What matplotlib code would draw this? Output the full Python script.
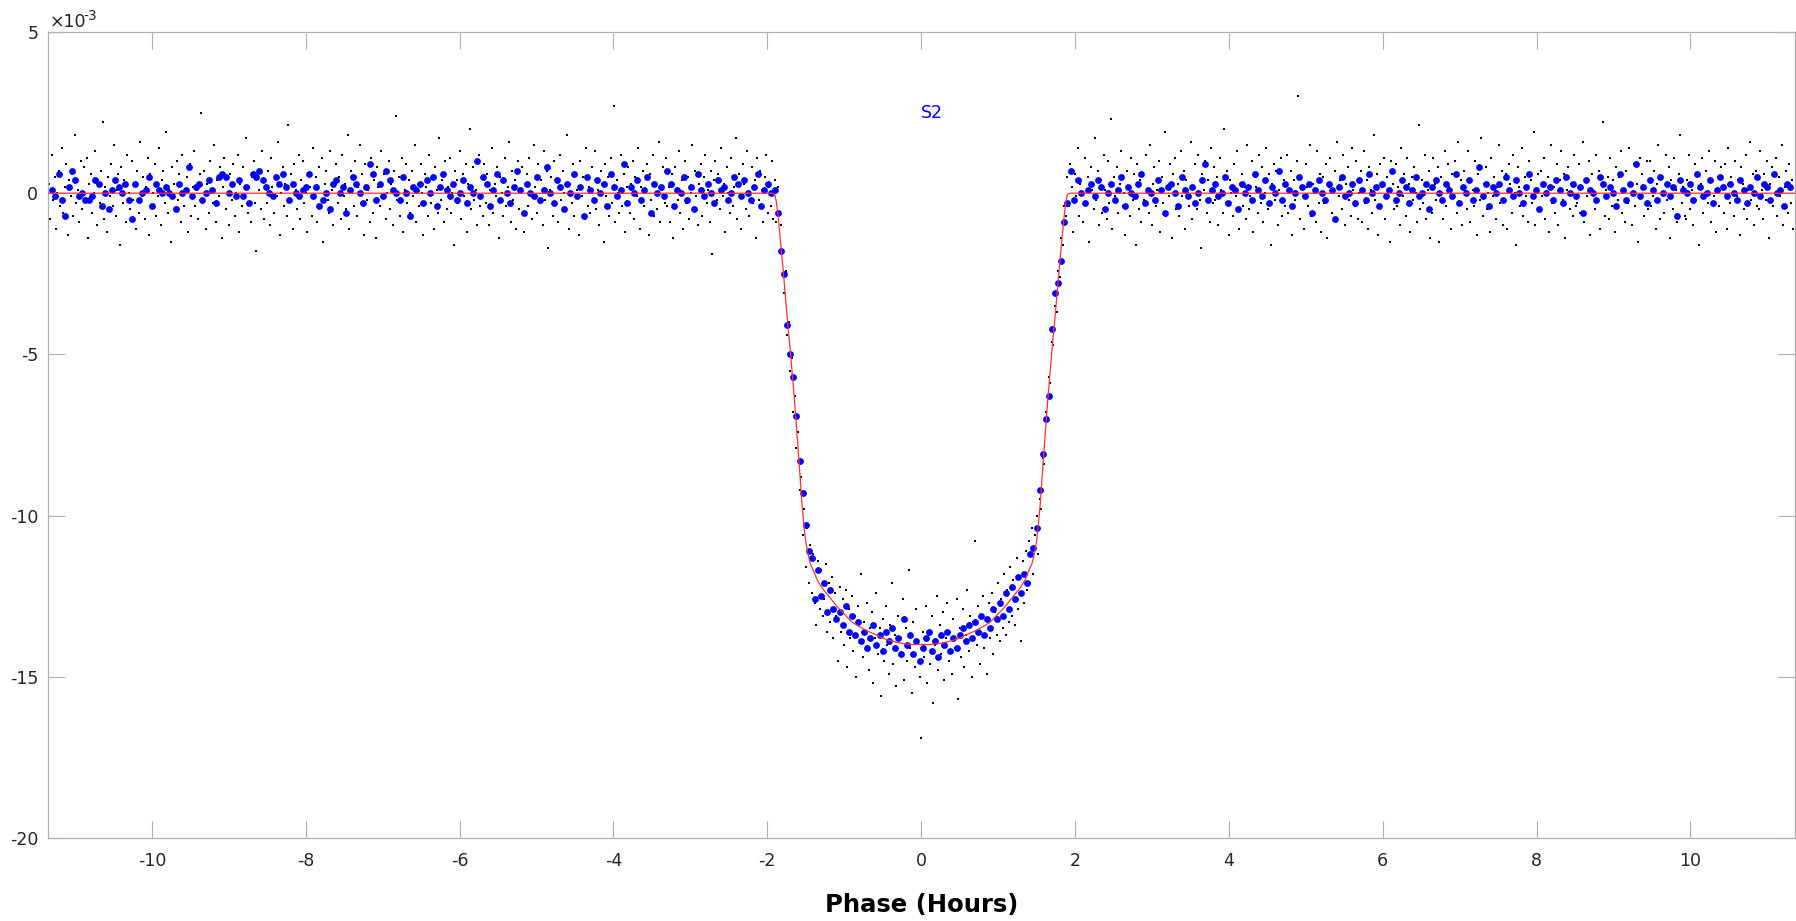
"""
Phase-folded transit light curve (S2): unbinned points, binned points and
the transit model, in the MATLAB-like style of the original figure.
"""

import numpy as np
import matplotlib
matplotlib.use('Agg')
import matplotlib.pyplot as plt

# ---------------------------------------------------------------------------
# data (relative flux in units of 1e-4)
# ---------------------------------------------------------------------------

# unbinned points, before / during / after transit
raw_pre = [
    3, -8, 12, -2, 5, -11, 0, 7, -4, 14, -6, 2, 9, -13, 4, -1, 6, -7, 18, -3, 1, -9, 10, -5, 8,
    -2, 11, -14, 3, 6, -6, 0, 13, -10, 4, -3, 7, 22, -8, 2, -12, 5, -1, 9, -4, 15, -7, 1, 6, -16,
    8, -3, 4, -9, 12, 0, -5, 10, -2, 3, -11, 7, -6, 16, -1, 5, -8, 2, 11, -13, 6, -4, 0, 9, -7,
    -1, 14, -10, 4, 7, -3, 19, -6, 1, -15, 8, 3, -5, 10, -2, 6, -9, 12, -4, 0, 5, -12, 9, -7, 2,
    13, -4, 1, -8, 6, 25, -2, 7, -11, 3, -6, 10, 0, -3, 15, -9, 4, -1, 8, -14, 2, 11, -5, 5, -10,
    6, -2, 9, -7, 0, 12, -12, 3, -4, 8, -1, 17, -6, 2, -9, 5, 10, -3, -18, 7, 1, -5, 13, -8, 4,
    -3, 7, -10, 11, 2, -6, 5, -1, 16, -13, 0, 8, -4, 3, -7, 21, -2, 6, -11, 9, 1, -5, 12, -8, 4,
    10, -3, 0, -12, 6, 2, -7, 14, -1, 5, -9, 8, -4, 11, -15, 3, 7, -2, -6, 13, 1, -10, 4, 9, -3,
    5, -8, 12, -1, 3, -5, 18, -11, 7, 0, -4, 10, -7, 2, 15, -3, 6, -13, 9, -2, 1, -9, 11, -6, 4,
    -14, 8, 2, -4, 13, -1, 6, -8, 0, 10, -5, 3, -10, 7, 24, -2, 5, -7, 11, -12, 1, 9, -3, 4, -6,
    7, -1, 15, -9, 3, -4, 9, 0, -13, 6, 2, -7, 12, -3, 5, -11, 8, 1, -6, 17, -2, 4, -9, 10, -5,
    2, 11, -6, 0, -16, 7, 4, -3, 13, -8, 6, -1, 9, -12, 3, 20, -5, 8, -2, 1, -10, 12, -4, 5, -7,
    9, -3, 6, -10, 1, 14, -6, 3, -1, 8, -14, 5, 0, -7, 11, -4, 2, 16, -9, 7, -2, 4, -11, 10, -5,
    0, 8, -12, 3, 6, -4, 11, -1, -8, 15, 2, -6, 9, -3, 4, -10, 13, -2, 7, -17, 1, 5, -7, 10, -3,
    4, -9, 12, -2, 7, 0, -5, 18, -11, 3, -3, 9, -7, 6, 1, -13, 10, -1, 5, -8, 14, -4, 2, -6, 8,
    -2, 13, -5, 1, -10, 7, 3, -15, 9, -1, 5, -7, 11, -3, 27, -9, 4, 0, -6, 12, -4, 6, -12, 2, 8,
    -6, 3, 10, -8, 5, -1, 14, -11, 2, 7, -4, 0, 9, -13, 6, -2, 12, -7, 3, -5, 16, -9, 1, 8, -3,
    11, -4, 2, -9, 6, -14, 8, 1, -2, 13, -6, 4, -11, 10, -3, 5, -8, 0, 15, -5, 7, -1, -10, 3, 9,
    -7, 5, 12, -3, 1, -9, 7, -19, 4, 10, -2, 6, -5, 14, -1, 3, -12, 8, 0, -6, 11, -4, 2, 17, -8,
    6, -1, -11, 9, 3, -5, 13, -7, 0, 8, -3, 4, -14, 11, -2, 7, 1, -9, 5, 12, -6, 2, -4, 10, -8,
]
raw_in = [
    4, -9, 2, -18, -10, -25, -31, -24, -44, -40,
    -55, -51, -68, -63, -79, -74, -92, -88, -106, -98,
    -116, -104, -121, -109, -124, -112, -127, -134, -114, -129,
    -117, -131, -126, -115, -136, -121, -133, -119, -138, -124,
    -131, -145, -122, -136, -126, -140, -123, -147, -129, -138,
    -125, -142, -131, -150, -128, -139, -118, -144, -133, -141,
    -127, -148, -135, -130, -152, -138, -124, -143, -135, -156,
    -132, -145, -128, -140, -149, -134, -121, -146, -137, -153,
    -131, -143, -138, -126, -151, -135, -145, -117, -141, -155,
    -133, -147, -129, -139, -150, -169, -136, -144, -128, -152,
    -137, -146, -131, -158, -140, -125, -148, -134, -143, -130,
    -151, -138, -127, -145, -136, -149, -132, -141, -126, -157,
    -135, -144, -129, -147, -137, -123, -142, -131, -150, -133,
    -108, -140, -128, -146, -136, -125, -141, -132, -149, -127,
    -138, -124, -143, -130, -137, -121, -139, -126, -135, -118,
    -137, -123, -133, -116, -131, -120, -134, -113, -129, -119,
    -139, -114, -127, -111, -123, -108, -121, -104, -118, -106,
    -100, -112, -95, -98, -82, -84, -68, -70, -57, -59,
    -46, -47, -35, -37, -24, -26, -14, -16, -4, -7,
    5,
]
raw_post = [
    -4, 9, 2, -12, 6, -1, 14, -7, 3, 0, -9, 11, -3, 5, -15, 8, 1, -5, 17, -2, 7, -10, 4, -6, 12,
    1, -8, 10, -3, 23, -11, 5, -1, 8, -6, 3, 13, -4, 0, -13, 7, 2, -7, 11, -2, 6, -16, 9, -5, 4,
    -9, 6, -2, 12, 0, -6, 15, -10, 3, 8, -4, 1, 10, -12, 5, -3, 19, -7, 2, -1, 9, -14, 6, 11, -5,
    3, -7, 13, -1, 7, -11, 4, 0, -4, 16, -8, 2, 9, -5, 12, -2, -17, 6, 1, 10, -6, 4, -9, 14, -3,
    8, -2, 5, -10, 11, 1, -6, 20, -3, 7, -13, 4, 0, -7, 9, -1, 13, -11, 3, 6, -4, 2, -8, 15, -5,
    -1, 10, -12, 5, 2, -6, 12, -3, 8, -9, 0, 14, -5, 6, -16, 3, 9, -2, 7, -10, 1, 11, -7, 4, -4,
    12, -6, 1, 7, -13, 4, -2, 10, 30, -8, 5, -1, -11, 9, 2, -4, 15, -7, 3, 0, -9, 13, -3, 6, -12,
    5, -3, 9, -14, 2, 11, -6, 0, 7, -9, 16, -1, 4, -5, 12, -10, 3, 8, -2, -7, 14, 1, -4, 10, -8,
    0, 7, -9, 13, -3, 4, -11, 8, 1, -6, 18, -2, 6, -13, 9, -4, 2, 11, -8, 5, -1, -15, 10, 3, -5,
    9, -4, 2, -10, 14, -1, 6, -7, 11, 3, -12, 5, -2, 8, 0, -9, 21, -5, 4, -3, 12, -8, 1, 7, -14,
    -6, 11, 3, -2, 8, -15, 5, 0, -8, 13, -4, 9, 2, -11, 6, -1, 10, -6, 16, -3, 4, -10, 7, 1, -5,
    13, -9, 4, 1, -4, 10, -13, 6, -2, 17, -7, 3, 8, -5, 0, -12, 11, -1, 5, -8, 2, 15, -3, 7, -10,
    -2, 6, -11, 9, 3, -6, 12, 0, -16, 8, 2, -4, 14, -7, 5, -1, -9, 10, 4, -3, 19, -10, 1, 6, -5,
    7, -1, 11, -8, 0, 5, -12, 15, -3, 2, -6, 9, -10, 4, 13, -2, 6, -14, 1, 8, -5, 3, -7, 12, -4,
    -3, 9, -6, 2, 16, -9, 4, -1, 10, -13, 6, 0, -5, 12, -2, 7, -11, 3, 22, -7, 1, 5, -8, 11, -4,
    4, -12, 8, -2, 5, 13, -6, 1, -9, 7, -3, 14, 0, -10, 9, -4, 3, -15, 11, -1, 6, -7, 2, 10, -5,
    10, -4, -1, 7, -11, 3, 15, -8, 5, 0, -6, 12, -2, 8, -14, 4, -5, 11, 1, -9, 6, 18, -3, 2, -7,
    -8, 4, 12, -5, 1, -10, 9, -2, 6, -16, 3, 11, -6, 0, 7, -3, 13, -9, 4, -1, 10, -12, 5, -4, 8,
    2, -6, 9, -11, 14, -3, 5, 0, -7, 10, -1, 4, -13, 8, 3, -5, 12, -8, 1, 16, -2, 6, -10, 7, -4,
    -5, 13, 1, -8, 6, -2, 10, -14, 3, 8, -4, 0, 11, -7, 5, -1, 15, -10, 2, 7, -6, 9, -3, 4, -11,
]

# binned points, before / during / after transit
bin_pre = [
    1, -1, 6, -2, -7, 2, 7, 4, -1, 0, -2, -2, -1, 4, 3, -4, 0, -5, 1, 4, 2, 0, 3, -2, -8,
    3, -2, 0, 1, 5, -4, 3, 1, 0, 2, 0, -1, -5, 3, 0, 1, 8, -1, 2, 3, -2, 0, 4, 1, -3,
    5, 6, 5, 0, 3, -1, 4, -1, 2, -3, 6, 5, 7, 4, 2, 0, -1, 5, 3, 6, 2, -2, 3, 0, -1,
    1, 2, 6, -1, 2, -4, -2, 0, -5, 3, 4, 0, 2, -6, 1, 5, 3, 0, -3, 2, 9, 6, -2, 3, -1,
    7, 4, 1, 0, -2, 5, 0, -7, 2, 1, 3, -3, 4, 0, 5, -4, 2, 6, 1, -1, 3, -2, 0, 4, -3,
    2, 0, 10, -1, 5, 3, -4, 1, 6, -2, 4, 0, -3, 2, 7, 1, -6, 3, 0, -1, 5, -2, 1, 8, 0,
    -3, 4, 2, -5, 3, 0, 6, -1, 2, -7, 5, 1, -2, 4, 0, 3, -4, 6, 2, -1, 1, 9, -3, 2, 0,
    4, -2, 1, 5, -6, 3, 0, 2, -1, 7, 3, -4, 1, 0, 5, -2, 2, -5, 6, 1, -1, 3, 0, -3, 4,
    1, 2, -2, 0, 5, 3, -1, 4, 0, -2, 2, 6, -4, 1, 3, 0,
]
bin_in = [
    1, -6, -18, -25, -41, -50, -57, -69, -83, -93,
    -103, -111, -113, -126, -117, -125, -121, -130, -123, -129,
    -132, -130, -134, -128, -136, -131, -137, -133, -139, -136,
    -141, -138, -134, -140, -137, -142, -136, -139, -135, -141,
    -138, -143, -132, -140, -137, -143, -139, -145, -141, -138,
    -136, -142, -139, -144, -137, -140, -136, -142, -138, -141,
    -137, -135, -139, -134, -138, -133, -136, -131, -137, -132,
    -135, -129, -132, -127, -131, -124, -129, -122, -126, -119,
    -124, -118, -121, -112, -110, -104, -92, -81, -70, -63,
    -42, -31, -28, -21, -9, -3,
]
bin_post = [
    7, -2, 4, 0, -3, 1, 3, -1, 4, 2, -5, 0, 3, -2, 1, 5, -4, 2, 0, -1, 3, 6, -3, 1, 0,
    -2, 4, 1, -6, 2, 3, 0, -4, 5, 1, -1, 2, -3, 0, 4, 9, -2, 1, 3, -1, 0, 5, -3, 2, 1,
    -5, 3, 0, 2, -2, 6, 1, -1, 4, -3, 2, 0, 7, -2, 3, 1, -4, 0, 5, 2, -1, 3, -6, 1, 4,
    0, -2, 3, 1, -8, 2, 5, -1, 0, 3, -3, 4, 1, -2, 6, 0, 2, -4, 3, -1, 1, 7, -2, 0, 4,
    2, -3, 1, 5, -1, 0, 3, -5, 2, 4, 0, -2, 3, 1, -1, 6, -3, 2, 0, 4, -2, 1, 8, -1, 3,
    -4, 2, 0, 3, -2, 5, 1, -1, 4, 0, -3, 2, 6, -1, 1, -5, 3, 0, 2, -2, 4, 1, -3, 5, 0,
    3, -1, 2, -6, 4, 1, 0, -2, 5, 3, -1, 2, 0, -4, 6, 1, -2, 3, 0, 9, -1, 2, -3, 4, 1,
    -2, 5, 0, 3, -1, 2, -7, 4, 1, 0, 3, -2, 6, 2, -1, 0, 4, -3, 1, 5, 2, -1, 3, 0, -2,
    4, 1, -3, 2, 0, 5, -1, 3, 2, -2, 6, 0, 1, -4, 3, 2,
]

# transit model (phase in hours, flux in units of 1e-3)
model_phase = [-11.35, -1.95, -1.92, -1.90, -1.88, -1.86, -1.84, -1.80, -1.75, -1.70,
               -1.65, -1.60, -1.55, -1.52, -1.50, -1.47, -1.44, -1.40, -1.35, -1.30,
               -1.20, -1.10, -1.00, -0.90, -0.80, -0.70, -0.60, -0.50, -0.40, -0.30,
               -0.20, -0.10, 0.00, 0.10, 0.20, 0.30, 0.40, 0.50, 0.60, 0.70,
               0.80, 0.90, 1.00, 1.10, 1.20, 1.30, 1.35, 1.40, 1.44, 1.47,
               1.50, 1.52, 1.55, 1.60, 1.65, 1.70, 1.75, 1.80, 1.84, 1.86,
               1.88, 1.90, 1.92, 1.95, 11.36]
model_flux = [0.00, 0.00, -0.01, -0.05, -0.30, -0.70, -1.20, -2.20, -3.60, -4.90,
              -6.30, -7.90, -9.60, -10.40, -10.80, -11.20, -11.50, -11.70, -12.00, -12.20,
              -12.50, -12.80, -13.05, -13.30, -13.45, -13.58, -13.68, -13.80, -13.88, -13.94,
              -13.98, -14.00, -14.00, -14.00, -13.98, -13.94, -13.88, -13.80, -13.68, -13.58,
              -13.45, -13.30, -13.05, -12.80, -12.50, -12.20, -12.00, -11.70, -11.50, -11.20,
              -10.80, -10.40, -9.60, -7.90, -6.30, -4.90, -3.60, -2.20, -1.20, -0.70,
              -0.30, -0.05, -0.01, 0.00, 0.00]

# phase ranges (hours) covered by each segment
raw_ranges = [(-11.34, -1.92), (-1.90, 1.90), (1.92, 11.34)]
bin_ranges = [(-11.30, -1.95), (-1.90, 1.90), (1.95, 11.30)]


def segments(values, ranges):
    """Join segments onto their evenly sampled phase grids."""
    xs, ys = [], []
    for vals, (lo, hi) in zip(values, ranges):
        xs.append(np.linspace(lo, hi, len(vals)))
        ys.append(np.array(vals) / 10.0)  # 1e-4 -> 1e-3 units
    return np.concatenate(xs), np.concatenate(ys)


def main():
    plt.rcParams['font.family'] = ['DejaVu Sans']
    plt.rcParams['axes.unicode_minus'] = False

    raw_x, raw_y = segments([raw_pre, raw_in, raw_post], raw_ranges)
    bin_x, bin_y = segments([bin_pre, bin_in, bin_post], bin_ranges)

    W, H = 1796, 921
    fig = plt.figure(figsize=(W / 100, H / 100), dpi=100)
    ax = fig.add_axes([48 / W, 1 - 838 / H, (1795 - 48) / W, (838 - 32) / H])

    ax.plot(raw_x, raw_y, 's', color='k', ms=1.8, mew=0, zorder=1)
    ax.plot(bin_x, bin_y, 'o', color=(0, 0, 1), ms=4.9, mew=0, zorder=2)
    ax.plot(model_phase, model_flux, '-', color=(1, 0.2, 0.2), lw=0.9, zorder=3)

    ax.set_xlim(-11.35, 11.36)
    ax.set_ylim(-20, 5)
    ax.set_xticks(np.arange(-10, 11, 2))
    ax.set_yticks(np.arange(-20, 6, 5))

    grey = '#b0b0b0'
    txt = '#262626'
    for sp in ax.spines.values():
        sp.set_color(grey)
        sp.set_linewidth(0.9)
    ax.tick_params(direction='in', length=12.5, width=0.8, color=grey,
                   labelcolor=txt, labelsize=12.5, top=True, right=True)
    ax.tick_params(axis='x', pad=10)
    ax.tick_params(axis='y', pad=7)

    # exponent label above the y axis
    ax.annotate('\u00d710', xy=(0, 1), xycoords='axes fraction',
                xytext=(1.5, 3.8), textcoords='offset points',
                fontsize=12.5, color=txt, ha='left', va='baseline')
    ax.annotate('-3', xy=(0, 1), xycoords='axes fraction',
                xytext=(25.5, 8.8), textcoords='offset points',
                fontsize=10, color=txt, ha='left', va='baseline')

    ax.text(0, 2.5, 'S2', color=(0, 0, 1), fontsize=12.5, ha='left', va='center')

    fig.text(921.5 / W, 1 - 912 / H, 'Phase (Hours)', fontsize=17.5,
             fontweight='bold', ha='center', va='baseline')

    fig.savefig('out.png', dpi=100)


if __name__ == "__main__":
    main()
